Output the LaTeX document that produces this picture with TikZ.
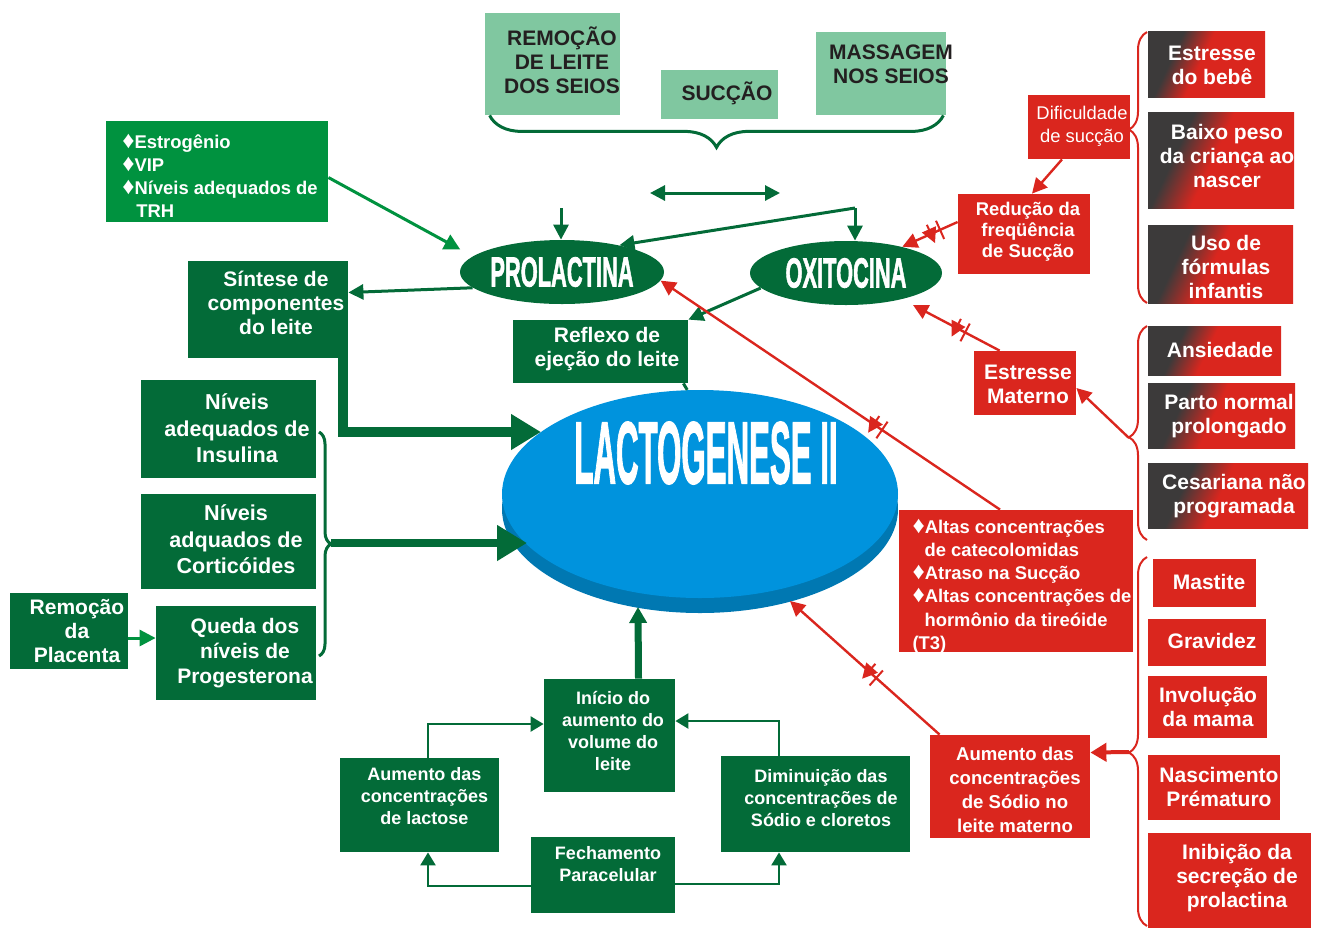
\documentclass[tikz,border=0pt]{standalone}
\usepackage{fontspec}
\setmainfont{Liberation Sans}
\newfontfamily\titlefont{Liberation Sans Bold}[FakeBold=2]
\usepackage{graphicx}
\usetikzlibrary{arrows.meta,shapes.geometric,decorations.pathreplacing,decorations.markings}

\definecolor{dkgreen}{RGB}{3,107,56}
\definecolor{brgreen}{RGB}{0,146,63}
\definecolor{ltgreen}{RGB}{128,199,160}
\definecolor{txtdark}{RGB}{35,31,32}
\definecolor{myred}{RGB}{218,38,30}
\definecolor{shgray}{RGB}{60,58,58}
\definecolor{skyblue}{RGB}{0,147,221}
\definecolor{rimblue}{RGB}{0,120,178}
\pgfdeclarehorizontalshading{grayred}{100bp}{color(0bp)=(shgray); color(33bp)=(shgray); color(47bp)=(myred); color(100bp)=(myred)}
\newcommand{\itm}{{\fontsize{12}{12}\selectfont ♦}}

\tikzset{
  gbox/.style={rectangle, inner sep=0pt, fill=dkgreen},
  hbox/.style={rectangle, inner sep=0pt, fill=brgreen},
  lbox/.style={rectangle, inner sep=0pt, fill=ltgreen},
  rbox/.style={rectangle, inner sep=0pt, fill=myred},
  sbox/.style={rectangle, inner sep=0pt, shade, shading=grayred, shading angle=-25},
  txt/.style={inner sep=0pt, align=center, text=white,
    font=\bfseries\fontsize{10.5}{12}\selectfont},
  ltxt/.style={txt, text=txtdark},
  cyctxt/.style={txt, font=\bfseries\fontsize{9}{11}\selectfont},
  listtxt/.style={txt, align=left, font=\bfseries\fontsize{9.2}{11.6}\selectfont},
  hormone/.style={ellipse, fill=dkgreen, inner sep=0pt, text=white,
    font=\titlefont\fontsize{21}{21}\selectfont},
  gline/.style={draw=dkgreen, line width=1.5pt},
  garrow/.style={gline, -{Triangle[length=7.5pt,width=7.5pt]}},
  brarrow/.style={draw=brgreen, line width=1.5pt, -{Triangle[length=8pt,width=8pt]}},
  bigarrow/.style={draw=dkgreen, line width=#1, -{Triangle[length=15pt,width=17pt]}},
  cycarrow/.style={draw=dkgreen, line width=1.2pt, -{Triangle[length=6.5pt,width=7.5pt]}},
  rarrow/.style={draw=myred, line width=1.2pt, -{Triangle[length=7.5pt,width=7.5pt]}},
  blocked/.style={postaction={decorate, decoration={markings,
    mark=at position #1 with {\draw[myred, line width=1pt] (-2.5pt,-5pt) -- (-2.5pt,5pt) (2.5pt,-5pt) -- (2.5pt,5pt);}}}},
  gbrace/.style={draw=dkgreen, line width=1.5pt, decorate, decoration={brace, amplitude=#1, aspect=0.5}},
  rbrace/.style={draw=myred, line width=1pt, decorate, decoration={brace, amplitude=9pt, aspect=#1}},
}

\begin{document}
\begin{tikzpicture}[x=0.5pt,y=-0.5pt]
\useasboundingbox (0,0) rectangle (1317,928);

% stimuli at the breast
\node[lbox, minimum width=67.5pt, minimum height=51pt] (remo) at (552.5,64) {};
\node[ltxt] (remo-t) at (562,60.5) {REMOÇÃO\\DE LEITE\\DOS SEIOS};
\node[lbox, minimum width=58.5pt, minimum height=24.5pt] (succ) at (719.5,94.5) {};
\node[ltxt] (succ-t) at (727,93) {SUCÇÃO};
\node[lbox, minimum width=65pt, minimum height=41.5pt] (mass) at (881,73.5) {};
\node[ltxt] (mass-t) at (891,64) {MASSAGEM\\NOS SEIOS};
\draw[gbrace=16pt] ([xshift=-1.5pt]mass.south east) -- ([xshift=2.5pt]remo.south west);

% hormones
\node[hormone, minimum width=102pt, minimum height=32pt] (pro) at (562,272) {\scalebox{0.52}[1]{PROLACTINA}};
\node[hormone, minimum width=96pt, minimum height=32pt] (oxi) at (846,273) {\scalebox{0.52}[1]{OXITOCINA}};
\node[ellipse, fill=rimblue, minimum width=198pt, minimum height=104pt, inner sep=0pt] (lgrim) at (700,509) {};
\node[ellipse, fill=skyblue, minimum width=198pt, minimum height=104pt, inner sep=0pt] (lg) at (700,494) {};
\node[font=\titlefont\fontsize{44}{44}\selectfont, text=white, inner sep=0pt] (lg-t) at (706,453) {\scalebox{0.355}[1]{LACTOGENESE II}};

% green boxes, left
\node[hbox, minimum width=111pt, minimum height=50.5pt] (horm) at (217,171.5) {};
\node[listtxt] (horm-t) at (220,176) {\itm Estrogênio\\\itm VIP\\\itm Níveis adequados de\\\hspace*{7pt}TRH};
\node[gbox, minimum width=80pt, minimum height=48.5pt] (sin) at (268,309.5) {};
\node[txt] (sin-t) at (276,303) {Síntese de\\componentes\\do leite};
\node[gbox, minimum width=87.5pt, minimum height=31.5pt] (ref) at (600.5,351.5) {};
\node[txt] (ref-t) at (607,349) {Reflexo de\\ejeção do leite};
\node[gbox, minimum width=87.5pt, minimum height=49pt] (ins) at (228.5,429) {};
\node[txt, font=\bfseries\fontsize{10.8}{13.2}\selectfont] (ins-t) at (237,428.5) {Níveis\\adequados de\\Insulina};
\node[gbox, minimum width=87.5pt, minimum height=47.5pt] (cor) at (228.5,541.5) {};
\node[txt, font=\bfseries\fontsize{10.8}{13.2}\selectfont] (cor-t) at (236,539.5) {Níveis\\adquados de\\Corticóides};
\node[gbox, minimum width=80pt, minimum height=47pt] (que) at (236,653) {};
\node[txt, font=\bfseries\fontsize{10.5}{12.5}\selectfont] (que-t) at (245,653.5) {Queda dos\\níveis de\\Progesterona};
\node[gbox, minimum width=59pt, minimum height=38pt] (pla) at (69,631) {};
\node[txt] (pla-t) at (77,631) {Remoção\\da\\Placenta};

% milk volume cycle
\node[gbox, minimum width=65.5pt, minimum height=56.5pt] (ini) at (609.5,735.5) {};
\node[cyctxt] (ini-t) at (613,730.5) {Início do\\aumento do\\volume do\\leite};
\node[gbox, minimum width=79.5pt, minimum height=47pt] (lac) at (419.5,805) {};
\node[cyctxt] (lac-t) at (424.5,796) {Aumento das\\concentrações\\de lactose};
\node[gbox, minimum width=94.5pt, minimum height=48pt] (dim) at (815.5,804) {};
\node[cyctxt] (dim-t) at (821,798) {Diminuição das\\concentrações de\\Sódio e cloretos};
\node[gbox, minimum width=72pt, minimum height=38pt] (fec) at (603,875) {};
\node[cyctxt] (fec-t) at (608,864.5) {Fechamento\\Paracelular};

% red boxes, right
\node[rbox, minimum width=51pt, minimum height=32pt] (dif) at (1079,127) {};
\node[txt, font=\fontsize{9.2}{11.5}\selectfont] (dif-t) at (1082,126.5) {Dificuldade\\de sucção};
\node[rbox, minimum width=66pt, minimum height=40pt] (redu) at (1024,234) {};
\node[txt, font=\bfseries\fontsize{9.2}{10.5}\selectfont] (redu-t) at (1028,231.5) {Redução da\\freqüência\\de Sucção};
\node[sbox, minimum width=58.5pt, minimum height=33pt] (bebe) at (1206.5,64) {};
\node[txt] (bebe-t) at (1212,65) {Estresse\\do bebê};
\node[sbox, minimum width=73pt, minimum height=48pt] (peso) at (1221,160) {};
\node[txt] (peso-t) at (1227,156) {Baixo peso\\da criança ao\\nascer};
\node[sbox, minimum width=72.5pt, minimum height=39pt] (form) at (1220.5,264) {};
\node[txt] (form-t) at (1226,267) {Uso de\\fórmulas\\infantis};
\node[rbox, minimum width=51pt, minimum height=32pt] (est) at (1025,383) {};
\node[txt] (est-t) at (1028,384) {Estresse\\Materno};
\node[sbox, minimum width=66.5pt, minimum height=24.5pt] (ans) at (1214.5,350.5) {};
\node[txt] (ans-t) at (1220,350) {Ansiedade};
\node[sbox, minimum width=73.5pt, minimum height=32.5pt] (par) at (1221.5,415.5) {};
\node[txt] (par-t) at (1229,416) {Parto normal\\prolongado};
\node[sbox, minimum width=80pt, minimum height=32.5pt] (ces) at (1228,495.5) {};
\node[txt] (ces-t) at (1234,496.5) {Cesariana não\\programada};
\node[rbox, minimum width=117pt, minimum height=71pt] (alt) at (1016,581) {};
\node[listtxt] (alt-t) at (1022,586) {\itm Altas concentrações\\\hspace*{6pt}de catecolomidas\\\itm Atraso na Sucção\\\itm Altas concentrações de\\\hspace*{6pt}hormônio da tireóide\\(T3)};
\node[rbox, minimum width=51.5pt, minimum height=24pt] (mast) at (1204.5,583) {};
\node[txt] (mast-t) at (1209,582) {Mastite};
\node[rbox, minimum width=59pt, minimum height=23.5pt] (grav) at (1207,642.5) {};
\node[txt] (grav-t) at (1212,641) {Gravidez};
\node[rbox, minimum width=59.5pt, minimum height=31pt] (invo) at (1207.5,707) {};
\node[txt] (invo-t) at (1208,707) {Involução\\da mama};
\node[rbox, minimum width=66pt, minimum height=32.5pt] (nasc) at (1214,787.5) {};
\node[txt] (nasc-t) at (1219,787) {Nascimento\\Prématuro};
\node[rbox, minimum width=81.5pt, minimum height=47.5pt] (inib) at (1229.5,880.5) {};
\node[txt] (inib-t) at (1237,878) {Inibição da\\secreção de\\prolactina};
\node[rbox, minimum width=80pt, minimum height=51.5pt] (sod) at (1010,786.5) {};
\node[txt, font=\bfseries\fontsize{9.3}{12}\selectfont] (sod-t) at (1015,790) {Aumento das\\concentrações\\de Sódio no\\leite materno};

% free ends
\coordinate (dl) at (650,193);
\coordinate (dr) at (780,193);
\coordinate (prin) at (561,208);
\coordinate (oxin) at (855,208);
\coordinate (lgin1) at (541,432);
\coordinate (lb1) at (319,432);
\coordinate (lb2) at (319,656);
\coordinate (lbt) at (331,543);
\coordinate (lgin2) at (527,543);
\coordinate (lgin3) at (638,607);
\coordinate (lgin4) at (790,601);
\coordinate (oxlow) at (913,305);
\coordinate (rb1a) at (1147,303);
\coordinate (rb1b) at (1147,32);
\coordinate (rb2a) at (1147,540);
\coordinate (rb2b) at (1147,326);
\coordinate (rb3a) at (1147,926);
\coordinate (rb3b) at (1147,557);
\coordinate (rbt2) at (1129,438);
\coordinate (rbt3) at (1129,752);

% green connectors
\draw[gline, {Triangle[length=7.5pt,width=7.5pt]}-{Triangle[length=7.5pt,width=7.5pt]}] (dl) -- (dr);
\draw[garrow] (prin) -- (prin |- pro.north);
\draw[garrow] (oxin) -- (oxin |- oxi.north);
\draw[garrow] (oxin) -- (pro.25);
\draw[brarrow, shorten >=7pt] ([yshift=-3pt]horm.east) -- (pro.170);
\draw[garrow] (pro.190) -- ([yshift=8.5pt]sin.east);
\draw[bigarrow=5pt] ([xshift=-2.5pt]sin.south east) |- (lgin1);
\draw[garrow] (oxi.190) -- (ref.north east);
\draw[gline] ([xshift=-2.5pt]ref.south east) -- (lg.97);
\draw[gbrace=6pt] (lb1) -- (lb2);
\draw[bigarrow=4pt] (lbt) -- (lgin2);
\draw[brarrow] ([yshift=-3.5pt]pla.east) -- ([yshift=-3.5pt]pla.east -| que.west);

% cycle connectors
\draw[draw=dkgreen, line width=3.5pt, -{Triangle[length=8pt,width=8.5pt]}] ([xshift=14.5pt]ini.north) -- (lgin3);
\draw[cycarrow] ([xshift=4.25pt]lac.north) |- ([yshift=5.75pt]ini.west);
\draw[cycarrow] ([xshift=-18.25pt]dim.north) |- ([yshift=7.25pt]ini.east);
\draw[cycarrow] ([yshift=-5.5pt]fec.west) -| ([xshift=4.25pt]lac.south);
\draw[cycarrow] ([yshift=-4.5pt]fec.east) -| ([xshift=-18.25pt]dim.south);

% red connectors
\draw[rbrace=0.64] (rb1a) -- (rb1b);
\draw[rbrace=0.48] (rb2a) -- (rb2b);
\draw[rbrace=0.47] (rb3a) -- (rb3b);
\draw[rarrow] ([xshift=-8.5pt]dif.south) -- ([xshift=4pt]redu.north);
\draw[rarrow, blocked=0.4] ([yshift=6pt]redu.west) -- (oxi.25);
\draw[rarrow, blocked=0.45] ([xshift=13pt]est.north west) -- (oxlow);
\draw[rarrow] (rbt2) -- ([yshift=-2.5pt]est.east);
\draw[rarrow, blocked=0.36] ([xshift=-8pt]alt.north) -- (pro.-5);
\draw[rarrow, blocked=0.45] ([xshift=5pt]sod.north west) -- (lgin4);
\draw[draw=myred, line width=2pt, -{Triangle[length=8pt,width=9pt]}] (rbt3) -- ([yshift=17pt]sod.east);
\end{tikzpicture}
\end{document}
